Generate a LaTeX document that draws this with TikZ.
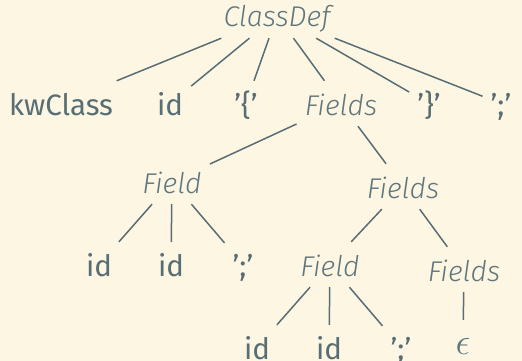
\documentclass[tikz,border=0pt]{standalone}
\usepackage{graphicx}
\usepackage{fontspec}
\setmainfont{Fira Sans}
\newfontfamily\ntfont{Fira Sans Light Italic}
\definecolor{paper}{HTML}{FDF6E3}
\definecolor{ink}{HTML}{586E75}
\definecolor{inklight}{HTML}{5F767D}
\tikzset{
  tnode/.style={rectangle, anchor=base, inner xsep=8pt, inner ysep=8pt,
    text height=26pt, text depth=3pt, text=ink},
  term/.style={tnode, font=\fontsize{29.5}{32}\selectfont},
  nonterm/.style={tnode, text=inklight, font=\fontsize{28.5}{32}\selectfont\ntfont},
  edge/.style={draw=ink, line width=1.5pt},
}
\begin{document}
\begin{tikzpicture}[x=1pt,y=-1pt]
  \path[fill=paper, use as bounding box] (0,0) rectangle (522,361);
  % root
  \node[nonterm] (cd) at (277,27) {ClassDef};
  % first level
  \node[term] (kw)  at (61,115)  {kwClass};
  \node[term] (id1) at (170,115) {id};
  \node[term] (lb)  at (246,115) {'\{'};
  \node[nonterm] (fs1) at (341,115) {Fields};
  \node[term] (rb)  at (429,115) {'\}'};
  \node[term] (sc1) at (501,115) {';'};
  % second level
  \node[nonterm] (f1)  at (172,193) {Field};
  \node[nonterm] (fs2) at (403,198) {Fields};
  % third level
  \node[term] (id2) at (99,276)  {id};
  \node[term] (id3) at (171,276) {id};
  \node[term] (sc2) at (243,276) {';'};
  \node[nonterm] (f2)  at (330,276) {Field};
  \node[nonterm] (fs3) at (464,281) {Fields};
  % fourth level
  \node[term] (id4) at (257,359) {id};
  \node[term] (id5) at (329,359) {id};
  \node[term] (sc3) at (401,359) {';'};
  \node[term, text=inklight] (eps) at (463,354) {\scalebox{1.5}{$\epsilon$}};
  % edges
  \foreach \c in {kw,id1,lb,fs1,rb,sc1} \draw[edge] (cd) -- (\c);
  \draw[edge] (fs1) -- (f1);
  \draw[edge] (fs1) -- (fs2);
  \foreach \c in {id2,id3,sc2} \draw[edge] (f1) -- (\c);
  \draw[edge] (fs2) -- (f2);
  \draw[edge] (fs2) -- (fs3);
  \foreach \c in {id4,id5,sc3} \draw[edge] (f2) -- (\c);
  \draw[edge] (fs3) -- (eps);
\end{tikzpicture}
\end{document}
